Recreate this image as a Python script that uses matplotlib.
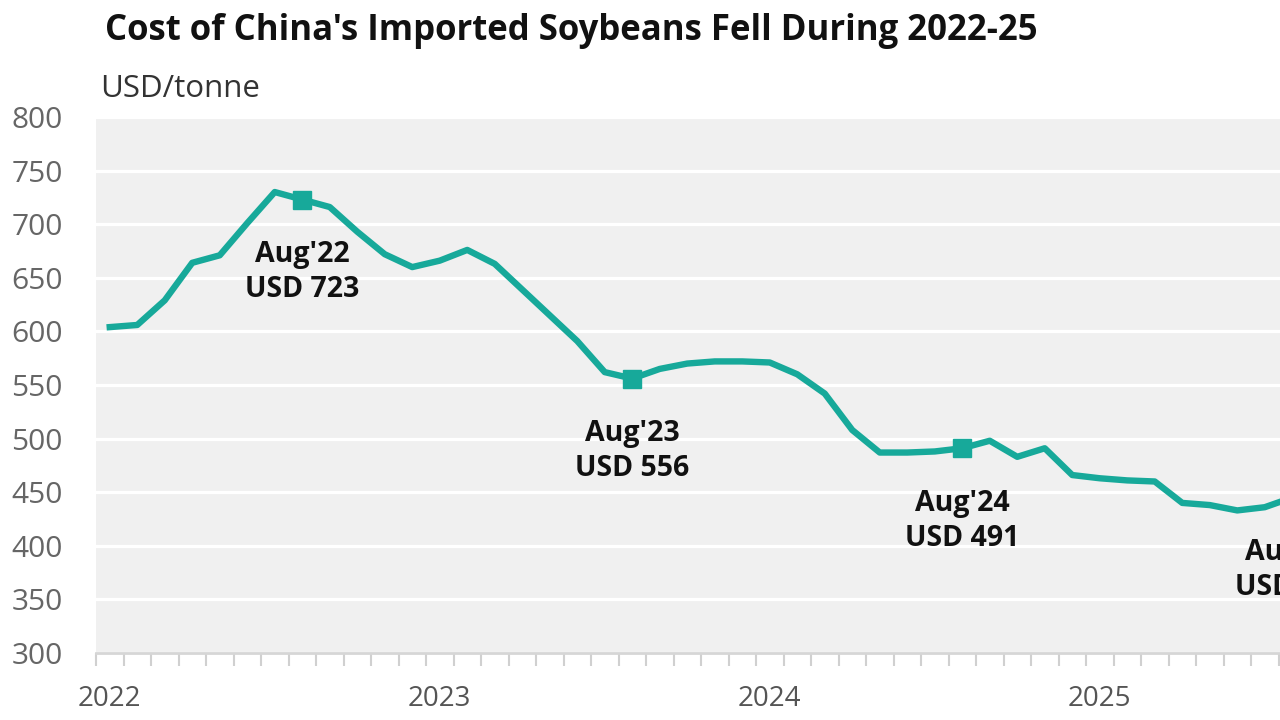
import matplotlib
matplotlib.use("Agg")
import matplotlib.pyplot as plt
import numpy as np

# monthly cost of imported soybeans, Jan 2022 - Aug 2025 (USD/tonne)
months = ["Jan'22", "Feb'22", "Mar'22", "Apr'22", "May'22", "Jun'22", "Jul'22", "Aug'22",
          "Sep'22", "Oct'22", "Nov'22", "Dec'22",
          "Jan'23", "Feb'23", "Mar'23", "Apr'23", "May'23", "Jun'23", "Jul'23", "Aug'23",
          "Sep'23", "Oct'23", "Nov'23", "Dec'23",
          "Jan'24", "Feb'24", "Mar'24", "Apr'24", "May'24", "Jun'24", "Jul'24", "Aug'24",
          "Sep'24", "Oct'24", "Nov'24", "Dec'24",
          "Jan'25", "Feb'25", "Mar'25", "Apr'25", "May'25", "Jun'25", "Jul'25", "Aug'25"]
cost = [604, 606, 629, 664, 671, 701, 730, 723,
        716, 693, 672, 660,
        666, 676, 663, 639, 615, 591, 562, 556,
        565, 570, 572, 572,
        571, 560, 542, 508, 487, 487, 488, 491,
        498, 483, 491, 466,
        463, 461, 460, 440, 438, 433, 436, 445]
highlight = ["Aug'22", "Aug'23", "Aug'24", "Aug'25"]
year_labels = ["2022", "2023", "2024", "2025"]

teal = "#17a99a"
x = np.arange(len(cost))

fig = plt.figure(figsize=(12.8, 7.2), dpi=100)
# plot area runs past the right edge, like the cropped original
ax = fig.add_axes([96 / 1280, 67 / 720, 27.5 * 45 / 1280, 536 / 720])
ax.set_facecolor("#f0f0f0")

ax.plot(x, cost, color=teal, lw=4.6, solid_joinstyle="round", zorder=3)

for m in highlight:
    i = months.index(m)
    ax.plot(i, cost[i], marker="s", ms=13, color=teal, zorder=4)
    ax.annotate(f"{m}\nUSD {cost[i]}", (i, cost[i]), xytext=(0, -29),
                textcoords="offset points", ha="center", va="top",
                fontsize=20.5, fontweight="bold", family="Open Sans",
                linespacing=1.3, color="#111111")

ax.set_xlim(-0.5, 44.5)
ax.set_ylim(300, 800)
ax.set_yticks(range(300, 801, 50))
ax.grid(axis="y", color="white", lw=2.3)
ax.set_axisbelow(True)

ax.set_xticks([months.index(f"Jan'{y[2:]}") for y in year_labels])
ax.set_xticklabels(year_labels)
ax.set_xticks(np.arange(-0.5, 45, 1), minor=True)
ax.tick_params(axis="x", which="major", length=0, pad=23, labelsize=20, labelcolor="#555555")
ax.tick_params(axis="x", which="minor", length=9, width=1.5, color="#d0d0d0")
ax.tick_params(axis="y", length=0, pad=24, labelsize=21.5, labelcolor="#666666")
for lab in ax.get_xticklabels() + ax.get_yticklabels():
    lab.set_family("Open Sans")

for s in ["top", "right", "left"]:
    ax.spines[s].set_visible(False)
ax.spines["bottom"].set_color("#d6d6d6")
ax.spines["bottom"].set_linewidth(2)

fig.text(105 / 1280, 1 - 31 / 720, "Cost of China's Imported Soybeans Fell During 2022-25",
         fontsize=25, fontweight="bold", family="Open Sans", va="center", color="#111111")
fig.text(100 / 1280, 1 - 89 / 720, "USD/tonne", fontsize=22.5, family="Open Sans",
         va="center", color="#333333")

fig.savefig("out.png", dpi=100)
